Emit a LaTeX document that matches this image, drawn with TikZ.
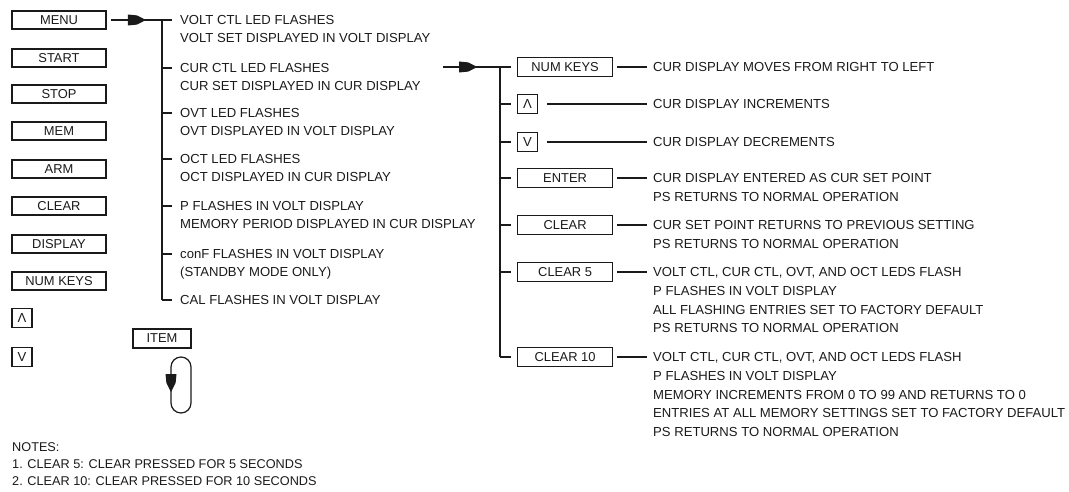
\documentclass[tikz,border=0pt]{standalone}
\usepackage{fontspec}
\setmainfont{Liberation Sans}
\usetikzlibrary{arrows.meta,decorations.markings}
\definecolor{ink}{HTML}{1A1A1A}
\begin{document}
\begin{tikzpicture}[x=1pt,y=-1pt,
  every node/.style={font=\fontsize{13.1}{18}\selectfont, text=ink},
  ln/.style={draw=ink, line width=1.2pt},
  key/.style={draw=ink, line width=1.2pt, minimum width=94pt, minimum height=18pt, inner sep=0pt, font=\fontsize{12.9}{15}\selectfont},
  rkey/.style={key, minimum width=95pt, minimum height=19pt, anchor=west},
  tiny/.style={draw=ink, line width=1.2pt, minimum width=20pt, minimum height=19pt, inner sep=0pt},
  item/.style={anchor=north west, inner sep=0pt, align=left, yshift=4.7pt},
  ritem/.style={item, font=\fontsize{13.1}{18.7}\selectfont},
  note/.style={item, font=\fontsize{12.7}{15}\selectfont},
  midarrow/.style={postaction={decorate}, decoration={markings, mark=at position #1 with {\fill[ink] (-18pt,-5.5pt) -- (-9pt,-4.6pt) -- (0pt,0pt) -- (-9pt,4.6pt) -- (-18pt,5.5pt) -- cycle;}}}
]
\useasboundingbox (0,0) rectangle (1069,492);

% left keys
\node[key] (menu) at (59,20) {MENU};
\node[key] (start) at (59,58) {START};
\node[key] (stop) at (59,94) {STOP};
\node[key] (mem) at (59,131) {MEM};
\node[key] (arm) at (59,169) {ARM};
\node[key] (clr) at (59,206) {CLEAR};
\node[key] (disp) at (59,244) {DISPLAY};
\node[key] (numk) at (59,281) {NUM KEYS};
\node[tiny] (up) at (22,318) {Λ};
\node[tiny] (down) at (22,357) {V};

% item loop
\node[key, minimum width=58pt, minimum height=19pt] (item) at (162,338.5) {ITEM};
\draw[ln, rounded corners=10pt] (171,357) rectangle (191,413);
\coordinate (la) at (171,370);
\coordinate (lb) at (171,392);
\draw[draw=none, midarrow=1] (la) -- (lb);

% menu items
\node[item] (t1) at (180,20) {VOLT CTL LED FLASHES\\VOLT SET DISPLAYED IN VOLT DISPLAY};
\node[item] (t2) at (180,68) {CUR CTL LED FLASHES\\CUR SET DISPLAYED IN CUR DISPLAY};
\node[item] (t3) at (180,113) {OVT LED FLASHES\\OVT DISPLAYED IN VOLT DISPLAY};
\node[item] (t4) at (180,159) {OCT LED FLASHES\\OCT DISPLAYED IN CUR DISPLAY};
\node[item] (t5) at (180,206) {P FLASHES IN VOLT DISPLAY\\MEMORY PERIOD DISPLAYED IN CUR DISPLAY};
\node[item] (t6) at (180,254) {conF FLASHES IN VOLT DISPLAY\\(STANDBY MODE ONLY)};
\node[item] (t7) at (180,300) {CAL FLASHES IN VOLT DISPLAY};

\coordinate (a1) at (162,20);
\coordinate (a2) at (162,68);
\coordinate (a3) at (162,113);
\coordinate (a4) at (162,159);
\coordinate (a5) at (162,206);
\coordinate (a6) at (162,254);
\coordinate (a7) at (162,300);

\draw[ln, midarrow=0.71, shorten <=4pt] (menu.east) -- (a1);
\draw[ln] (a1) -- (a7);
\foreach \i in {1,...,7}{
  \draw[ln, shorten >=8pt] (a\i) -- (a\i -| t\i.west);
}

% cur submenu
\coordinate (b1) at (500,67);
\coordinate (b2) at (500,104);
\coordinate (b3) at (500,142);
\coordinate (b4) at (500,178);
\coordinate (b5) at (500,225);
\coordinate (b6) at (500,272);
\coordinate (b7) at (500,357);
\coordinate (c0) at (443,67);

\draw[ln, midarrow=0.6] (c0) -- (b1);
\draw[ln] (b1) -- (b7);

\node[rkey] (r1) at (517,67) {NUM KEYS};
\node[tiny, anchor=west] (r2) at (517,104) {Λ};
\node[tiny, anchor=west] (r3) at (517,142) {V};
\node[rkey] (r4) at (517,178) {ENTER};
\node[rkey] (r5) at (517,225) {CLEAR};
\node[rkey] (r6) at (517,272) {CLEAR 5};
\node[rkey] (r7) at (517,357) {CLEAR 10};

\node[ritem] (u1) at (653,67) {CUR DISPLAY MOVES FROM RIGHT TO LEFT};
\node[ritem] (u2) at (653,104) {CUR DISPLAY INCREMENTS};
\node[ritem] (u3) at (653,142) {CUR DISPLAY DECREMENTS};
\node[ritem] (u4) at (653,178) {CUR DISPLAY ENTERED AS CUR SET POINT\\PS RETURNS TO NORMAL OPERATION};
\node[ritem] (u5) at (653,225) {CUR SET POINT RETURNS TO PREVIOUS SETTING\\PS RETURNS TO NORMAL OPERATION};
\node[ritem] (u6) at (653,272) {VOLT CTL, CUR CTL, OVT, AND OCT LEDS FLASH\\P FLASHES IN VOLT DISPLAY\\ALL FLASHING ENTRIES SET TO FACTORY DEFAULT\\PS RETURNS TO NORMAL OPERATION};
\node[ritem] (u7) at (653,357) {VOLT CTL, CUR CTL, OVT, AND OCT LEDS FLASH\\P FLASHES IN VOLT DISPLAY\\MEMORY INCREMENTS FROM 0 TO 99 AND RETURNS TO 0\\ENTRIES AT ALL MEMORY SETTINGS SET TO FACTORY DEFAULT\\PS RETURNS TO NORMAL OPERATION};

\foreach \i in {1,...,7}{
  \draw[ln, shorten >=6pt] (b\i) -- (r\i.west);
}
\foreach \i in {1,4,5,6,7}{
  \draw[ln, shorten <=4pt, shorten >=6pt] (r\i.east) -- (r\i.east -| u\i.west);
}
\foreach \i in {2,3}{
  \draw[ln, shorten <=9pt, shorten >=6pt] (r\i.east) -- (r\i.east -| u\i.west);
}

% notes
\node[note] (notes) at (12,447.5) {NOTES:};
\node[note] (n1) at (12,464) {1. CLEAR 5: CLEAR PRESSED FOR 5 SECONDS};
\node[note] (n2) at (12,481) {2. CLEAR 10: CLEAR PRESSED FOR 10 SECONDS};
\end{tikzpicture}
\end{document}
